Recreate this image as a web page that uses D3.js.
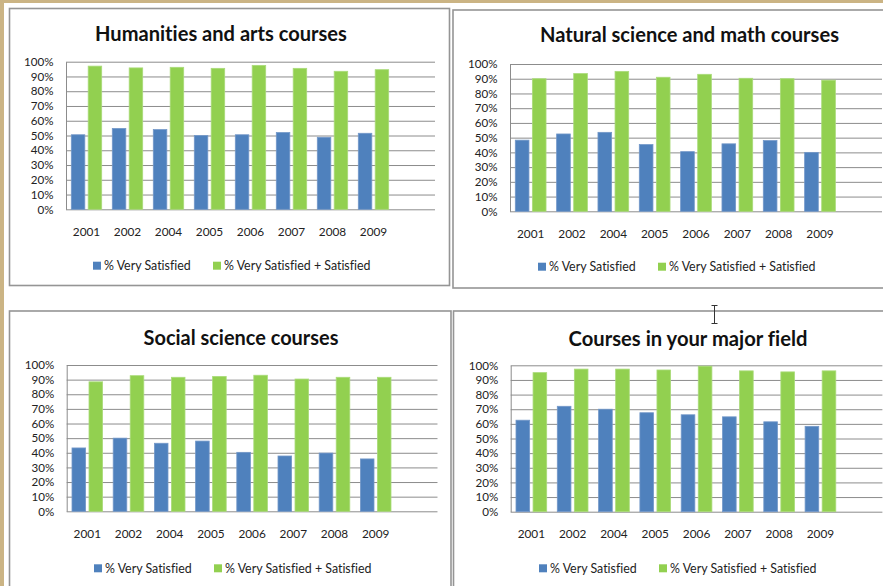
<!DOCTYPE html>
<html>
<head>
<meta charset="utf-8">
<script src="https://cdn.jsdelivr.net/npm/d3@7"></script>
<style>
  body { margin: 0; background: #fff; }
  svg { display: block; font-family: Lato, "Liberation Sans", sans-serif; font-variant-ligatures: none; }
</style>
</head>
<body>
<svg id="chart" width="883" height="586"></svg>
<script>
const years = ["2001", "2002", "2004", "2005", "2006", "2007", "2008", "2009"];
const seriesNames = ["% Very Satisfied", "% Very Satisfied + Satisfied"];
const yTicks = [0, 10, 20, 30, 40, 50, 60, 70, 80, 90, 100];

const humanitiesVery  = [50.5, 54.8, 54, 50, 50.5, 52, 48.8, 51.5];
const humanitiesTotal = [97, 95.8, 96.2, 95.5, 97.5, 95.5, 93.5, 94.6];
const naturalVery     = [48.3, 52.5, 53.6, 45.3, 40.5, 45.8, 48, 40];
const naturalTotal    = [90, 93.5, 95, 91, 93, 90.3, 90, 89];
const socialVery      = [43.3, 50, 46.5, 48, 40.3, 37.8, 39.8, 35.8];
const socialTotal     = [88.5, 92.7, 91.6, 92.2, 93, 90.4, 91.6, 91.6];
const majorVery       = [62.5, 72, 70, 67.6, 66.2, 64.8, 61.4, 58.3];
const majorTotal      = [95, 97.4, 97.4, 96.8, 99.4, 96.2, 95.5, 96.2];

const colors = ["#4f81bd", "#92d050"];
const edges = ["#7398c9", "#aadb7a"];

// layout of the four chart boxes
const panels = [
  {title: "Humanities and arts courses", very: humanitiesVery, total: humanitiesTotal,
   frame: [9.5, 8.5, 449.5, 285.5], plot: {left: 66, right: 435, top: 61.7, bottom: 209.3},
   titleX: 221, titleY: 32.5, legendX: 93, legendY: 265.7},
  {title: "Natural science and math courses", very: naturalVery, total: naturalTotal,
   frame: [453, 10, 895, 288], plot: {left: 510, right: 882, top: 64, bottom: 211.3},
   titleX: 689.5, titleY: 34.3, legendX: 538, legendY: 266.7},
  {title: "Social science courses", very: socialVery, total: socialTotal,
   frame: [9.5, 311, 451, 600], plot: {left: 66.7, right: 437.5, top: 365, bottom: 511.3},
   titleX: 241, titleY: 336.7, legendX: 94, legendY: 568.3},
  {title: "Courses in your major field", very: majorVery, total: majorTotal,
   frame: [453.5, 311, 895, 600], plot: {left: 510.7, right: 882.4, top: 365.3, bottom: 511.7},
   titleX: 688, titleY: 338.3, legendX: 539, legendY: 568.3}
];
const titleWidths = [252, 299, 195, 239];

const svg = d3.select("#chart");

// tan window edge
svg.append("rect").attr("x", 0).attr("y", 0).attr("width", 883).attr("height", 3).attr("fill", "#cbb484");
svg.append("rect").attr("x", 0).attr("y", 0).attr("width", 4).attr("height", 586).attr("fill", "#cbb484");

panels.forEach((p, pi) => {
  let g = svg.append("g");
  let [x0, y0, x1, y1] = p.frame;
  g.append("rect")
    .attr("x", x0).attr("y", y0)
    .attr("width", x1 - x0).attr("height", y1 - y0)
    .attr("fill", "#fff")
    .attr("stroke", "#959595")
    .attr("stroke-width", 1.6);

  let slot = (p.plot.right - p.plot.left) / 9;
  let x = d3.scaleBand().domain(years)
    .range([p.plot.left, p.plot.left + slot * 8]);
  let inner = d3.scaleBand().domain([0, 1])
    .range([5.3, slot - 5.3]).paddingInner(0.2);
  let y = d3.scaleLinear().domain([0, 100]).range([p.plot.bottom, p.plot.top]);

  // gridlines and y labels
  let yAxis = d3.axisLeft(y).tickValues(yTicks)
    .tickFormat(d => d + "%")
    .tickSizeInner(-(p.plot.right - p.plot.left))
    .tickSizeOuter(0)
    .tickPadding(12.5);
  let ag = g.append("g")
    .attr("transform", `translate(${p.plot.left},0)`)
    .call(yAxis);
  ag.select(".domain").attr("stroke", "#8c8c8c");
  ag.selectAll(".tick line").attr("stroke", "#8c8c8c");
  ag.selectAll(".tick text")
    .attr("fill", "#222")
    .style("font-size", "11.6px")
    .style("font-family", "Lato, 'Liberation Sans', sans-serif");

  // bars
  let rows = years.map((yr, i) => ({year: yr, vals: [p.very[i], p.total[i]]}));
  let grp = g.selectAll(".grp").data(rows).join("g")
    .attr("transform", d => `translate(${x(d.year)},0)`);
  grp.selectAll("rect")
    .data(d => d.vals.map((v, k) => ({k: k, v: v})))
    .join("rect")
    .attr("x", d => inner(d.k))
    .attr("width", inner.bandwidth())
    .attr("y", d => y(d.v))
    .attr("height", d => y(0) - y(d.v))
    .attr("fill", d => colors[d.k])
    .attr("stroke", d => edges[d.k])
    .attr("stroke-width", 0.8);

  // x labels
  g.selectAll(".yr").data(years).join("text")
    .attr("x", d => x(d) + slot / 2)
    .attr("y", p.plot.bottom + 22)
    .attr("text-anchor", "middle")
    .attr("dominant-baseline", "central")
    .attr("fill", "#222")
    .style("font-size", "11.8px")
    .text(d => d);

  // title
  let t = g.append("text")
    .attr("x", p.titleX)
    .attr("y", p.titleY)
    .attr("text-anchor", "middle")
    .attr("dominant-baseline", "central")
    .attr("fill", "#111")
    .style("font-weight", "bold")
    .style("font-size", "18px")
    .text(p.title);
  let w = t.node().getComputedTextLength();
  t.style("font-size", (18 * titleWidths[pi] / w).toFixed(2) + "px");

  // legend
  let lg = g.append("g").attr("transform", `translate(${p.legendX},${p.legendY})`);
  seriesNames.forEach((name, k) => {
    let off = k * 120;
    lg.append("rect")
      .attr("x", off).attr("y", -4)
      .attr("width", 8).attr("height", 8)
      .attr("fill", colors[k]);
    lg.append("text")
      .attr("x", off + 11).attr("y", 0)
      .attr("dominant-baseline", "central")
      .attr("fill", "#222")
      .style("font-size", "12.4px")
      .text(name);
  });
});

// text cursor in the screenshot
svg.append("path")
  .attr("d", "M711.5,305.5 h6 M714.5,305.5 v18 M711.5,323.5 h6")
  .attr("fill", "none")
  .attr("stroke", "#333")
  .attr("stroke-width", 1);
</script>
</body>
</html>
